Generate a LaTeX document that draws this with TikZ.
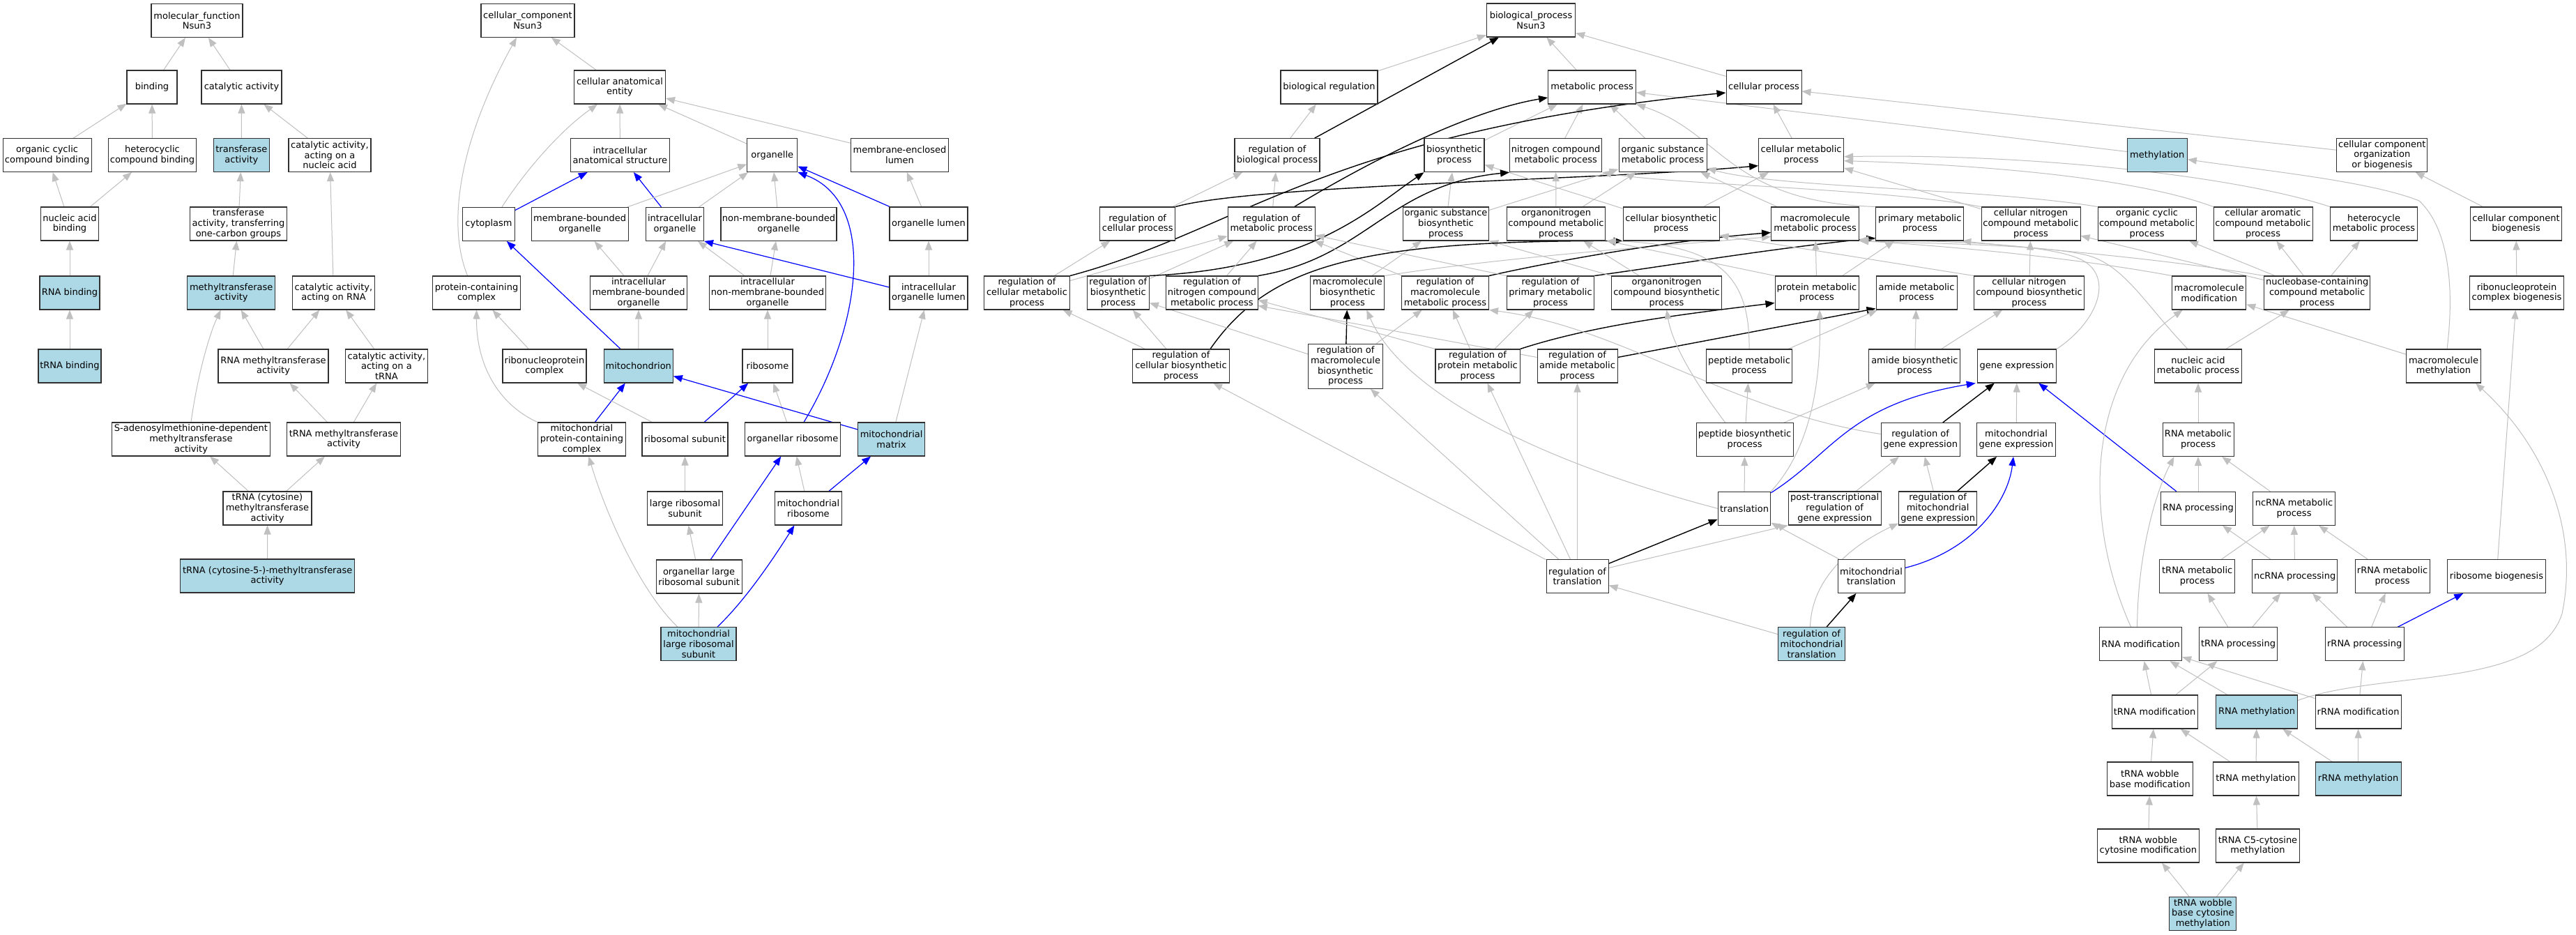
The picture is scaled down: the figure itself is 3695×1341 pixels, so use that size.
\documentclass[tikz,border=0pt]{standalone}
\usepackage{fontspec}
\setmainfont{DejaVu Sans}
\usetikzlibrary{arrows.meta}
\definecolor{bluefill}{HTML}{ADD8E6}
\definecolor{edgegray}{HTML}{C0C0C0}
\definecolor{boxline}{HTML}{303030}
\pgfdeclarelayer{bg}
\pgfsetlayers{bg,main}
\tikzset{
 gobox/.style={draw=boxline, line width=1.05pt, fill=white, rectangle, align=center, inner sep=1pt, minimum height=48pt, font=\fontsize{13}{14.6}\selectfont},
 hit/.style={gobox, fill=bluefill},
 isa/.style={draw=edgegray, line width=1pt, -{Triangle[length=13pt,width=10pt]}},
 partof/.style={draw=blue, line width=1.2pt, -{Triangle[length=13pt,width=10pt]}},
 regl/.style={draw=black, line width=1.4pt, -{Triangle[length=13pt,width=10pt]}},
}
\newcommand{\gonode}[5][gobox]{\node[#1, minimum width=#4pt] (#2) at (#3) {#5};}
\begin{document}
\begin{tikzpicture}[x=1pt,y=-1pt]
\begin{pgfonlayer}{bg}
\fill[white] (0,0) rectangle (3695,1341);
\end{pgfonlayer}
\path[use as bounding box] (0,0) rectangle (3695,1341);
% ---------------- molecular function
\gonode{mf}{282.5,29.5}{131}{molecular\_function\\Nsun3}
\gonode{bind}{218,125}{72}{binding}
\gonode{cat}{346.5,125}{115}{catalytic activity}
\gonode{occb}{67.6,222.5}{127}{organic cyclic\\compound binding}
\gonode{hcb}{218.5,222.5}{126}{heterocyclic\\compound binding}
\gonode[hit]{trans}{346.4,222.5}{80}{transferase\\activity}
\gonode{canuc}{473,222.5}{118}{catalytic activity,\\acting on a\\nucleic acid}
\gonode{nab}{100,321}{83}{nucleic acid\\binding}
\gonode{tocg}{342,321}{139}{transferase\\activity, transferring\\one-carbon groups}
\gonode[hit]{rnab}{100,420}{86}{RNA binding}
\gonode[hit]{mta}{331.7,420}{126}{methyltransferase\\activity}
\gonode{carna}{478.5,420}{118}{catalytic activity,\\acting on RNA}
\gonode[hit]{trnab}{100,525}{90}{tRNA binding}
\gonode{rmta}{392,525}{158}{RNA methyltransferase\\activity}
\gonode{catrna}{554.4,525}{118}{catalytic activity,\\acting on a\\tRNA}
\gonode{sam}{274,630}{227}{S-adenosylmethionine-dependent\\methyltransferase\\activity}
\gonode{tmta}{493,630}{163}{tRNA methyltransferase\\activity}
\gonode{tcmta}{383.5,729}{127}{tRNA (cytosine)\\methyltransferase\\activity}
\gonode[hit]{tc5}{383.7,826}{250}{tRNA (cytosine-5-)-methyltransferase\\activity}
% ---------------- cellular component
\gonode{cc}{757,29.3}{134}{cellular\_component\\Nsun3}
\gonode{cae}{889,125}{131}{cellular anatomical\\entity}
\gonode{ias}{889.4,222.5}{142}{intracellular\\anatomical structure}
\gonode{org}{1107.8,222.5}{72}{organelle}
\gonode{mel}{1290.5,222.3}{140}{membrane-enclosed\\lumen}
\gonode{cyt}{701,321.4}{75}{cytoplasm}
\gonode{mbo}{831.7,321.4}{139}{membrane-bounded\\organelle}
\gonode{io}{968,321.4}{83}{intracellular\\organelle}
\gonode{nmbo}{1117,321.4}{166}{non-membrane-bounded\\organelle}
\gonode{ol}{1332,321}{112}{organelle lumen}
\gonode{pcc}{683.6,420}{126}{protein-containing\\complex}
\gonode{imbo}{916,420}{139}{intracellular\\membrane-bounded\\organelle}
\gonode{inmbo}{1101,420}{167}{intracellular\\non-membrane-bounded\\organelle}
\gonode{iol}{1332,420}{112}{intracellular\\organelle lumen}
\gonode{rnpc}{781,525}{120}{ribonucleoprotein\\complex}
\gonode[hit]{mito}{915.8,525}{99}{mitochondrion}
\gonode{ribo}{1101,525}{72}{ribosome}
\gonode{mpcc}{834.4,630}{126}{mitochondrial\\protein-containing\\complex}
\gonode{rsu}{982.5,630}{123}{ribosomal subunit}
\gonode{oribo}{1137,630}{137}{organellar ribosome}
\gonode[hit]{mmat}{1278.6,630}{96}{mitochondrial\\matrix}
\gonode{lrsu}{982.5,729}{108}{large ribosomal\\subunit}
\gonode{mribo}{1159.4,729}{96}{mitochondrial\\ribosome}
\gonode{olrsu}{1002.6,827}{123}{organellar large\\ribosomal subunit}
\gonode[hit]{mlrsu}{1002,923.6}{108}{mitochondrial\\large ribosomal\\subunit}
% ---------------- biological process
\gonode{bp}{2196,29}{127}{biological\_process\\Nsun3}
\gonode{breg}{1906.5,125}{139}{biological regulation}
\gonode{met}{2283.6,125}{126}{metabolic process}
\gonode{cell}{2530,125}{108}{cellular process}
\gonode{rbp}{1832,222.7}{122}{regulation of\\biological process}
\gonode{bio}{2086,222.7}{86}{biosynthetic\\process}
\gonode{ncm}{2231.6,222.7}{132}{nitrogen compound\\metabolic process}
\gonode{osm}{2385,222.7}{126}{organic substance\\metabolic process}
\gonode{cm}{2583.6,222.7}{122}{cellular metabolic\\process}
\gonode[hit]{methy}{3094.3,222.7}{86}{methylation}
\gonode{ccob}{3416.8,222.3}{130}{cellular component\\organization\\or biogenesis}
\gonode{rcp}{1631.7,321}{108}{regulation of\\cellular process}
\gonode{rmp}{1823.7,321}{125}{regulation of\\metabolic process}
\gonode{osb}{2074,321}{123}{organic substance\\biosynthetic\\process}
\gonode{oncm}{2232,321}{141}{organonitrogen\\compound metabolic\\process}
\gonode{cbp}{2397,321}{138}{cellular biosynthetic\\process}
\gonode{mmp}{2603.6,321}{126}{macromolecule\\metabolic process}
\gonode{pmp}{2753.8,321}{126}{primary metabolic\\process}
\gonode{cncm}{2913,321}{142}{cellular nitrogen\\compound metabolic\\process}
\gonode{occm}{3079.6,321}{141}{organic cyclic\\compound metabolic\\process}
\gonode{cacm}{3246,321}{142}{cellular aromatic\\compound metabolic\\process}
\gonode{hmp}{3405,321}{125}{heterocycle\\metabolic process}
\gonode{ccb}{3609,321}{131}{cellular component\\biogenesis}
\gonode{rcmp}{1473,420}{123}{regulation of\\cellular metabolic\\process}
\gonode{rbsp}{1603.8,420}{89}{regulation of\\biosynthetic\\process}
\gonode{rncm}{1738.4,420}{131.5}{regulation of\\nitrogen compound\\metabolic process}
\gonode{mbp}{1932.8,420}{106}{macromolecule\\biosynthetic\\process}
\gonode{rmmp}{2073,420}{125}{regulation of\\macromolecule\\metabolic process}
\gonode{rpmp}{2224,420}{125.5}{regulation of\\primary metabolic\\process}
\gonode{oncb}{2390.5,420}{158}{organonitrogen\\compound biosynthetic\\process}
\gonode{prot}{2606,420}{120}{protein metabolic\\process}
\gonode{amide}{2749,420}{116}{amide metabolic\\process}
\gonode{cncb}{2910.5,420}{158}{cellular nitrogen\\compound biosynthetic\\process}
\gonode{mmod}{3168.7,420}{106}{macromolecule\\modification}
\gonode{nbc}{3323.6,420}{152}{nucleobase-containing\\compound metabolic\\process}
\gonode{rnpcb}{3610,420}{135}{ribonucleoprotein\\complex biogenesis}
\gonode{rcbp}{1694,525}{139}{regulation of\\cellular biosynthetic\\process}
\gonode[gobox,minimum height=64pt]{rmbp}{1930,525.3}{107}{regulation of\\macromolecule\\biosynthetic\\process}
\gonode{rprot}{2119.5,525}{121}{regulation of\\protein metabolic\\process}
\gonode{ramide}{2262.5,525}{115}{regulation of\\amide metabolic\\process}
\gonode{pep}{2509,525}{123}{peptide metabolic\\process}
\gonode{amb}{2746.4,525}{131}{amide biosynthetic\\process}
\gonode{gene}{2893,525}{113.5}{gene expression}
\gonode{nam}{3153,525}{125.5}{nucleic acid\\metabolic process}
\gonode{mmeth}{3505,525}{107}{macromolecule\\methylation}
\gonode{pepb}{2502.6,630.5}{139}{peptide biosynthetic\\process}
\gonode{rge}{2754.6,630.5}{113}{regulation of\\gene expression}
\gonode{mge}{2892,630.5}{113}{mitochondrial\\gene expression}
\gonode{rnam}{3153,630.5}{102}{RNA metabolic\\process}
\gonode{tl}{2502,729.3}{75.5}{translation}
\gonode{ptr}{2631.6,729}{133}{post-transcriptional\\regulation of\\gene expression}
\gonode{rmge}{2779.6,729}{112}{regulation of\\mitochondrial\\gene expression}
\gonode{rnap}{3153,729.3}{107}{RNA processing}
\gonode{ncrm}{3290.5,729.3}{118}{ncRNA metabolic\\process}
\gonode{rtl}{2262.5,826.5}{89}{regulation of\\translation}
\gonode{mtl}{2684,826.5}{96}{mitochondrial\\translation}
\gonode{trm}{3151.7,826.5}{108}{tRNA metabolic\\process}
\gonode{ncp}{3291.6,826.5}{122}{ncRNA processing}
\gonode{rrm}{3431.6,826.5}{107}{rRNA metabolic\\process}
\gonode{rbg}{3581,826.5}{141}{ribosome biogenesis}
\gonode[hit]{rmtl}{2598.5,923.7}{96}{regulation of\\mitochondrial\\translation}
\gonode{rmod}{3070.6,923.7}{118}{RNA modification}
\gonode{tproc}{3210.5,923.7}{112}{tRNA processing}
\gonode{rproc}{3391.7,923.7}{113}{rRNA processing}
\gonode{tmod}{3090.6,1021}{123}{tRNA modification}
\gonode[hit]{rmeth}{3237,1021}{117}{RNA methylation}
\gonode{rrmod}{3382.6,1021}{123}{rRNA modification}
\gonode{twbm}{3083.8,1117}{122.5}{tRNA wobble\\base modification}
\gonode{tmeth}{3235.8,1117}{123}{tRNA methylation}
\gonode[hit]{rrmeth}{3382.6,1117}{123}{rRNA methylation}
\gonode{twcm}{3081.3,1213}{146.5}{tRNA wobble\\cytosine modification}
\gonode{tc5m}{3238.5,1213}{120}{tRNA C5-cytosine\\methylation}
\gonode[hit]{twbcm}{3159.8,1310.3}{96}{tRNA wobble\\base cytosine\\methylation}

\begin{pgfonlayer}{bg}
% ---------- MF edges
\draw[isa] (bind) -- (mf);
\draw[isa] (cat) -- (mf);
\draw[isa] (occb) -- (bind);
\draw[isa] (hcb) -- (bind);
\draw[isa] (trans) -- (cat);
\draw[isa] (canuc) -- (cat);
\draw[isa] (nab) -- (occb);
\draw[isa] (nab) -- (hcb);
\draw[isa] (tocg) -- (trans);
\draw[isa] (rnab) -- (nab);
\draw[isa] (mta) -- (tocg);
\draw[isa] (carna) -- (canuc);
\draw[isa] (trnab) -- (rnab);
\draw[isa] (rmta) -- (mta);
\draw[isa] (rmta) -- (carna);
\draw[isa] (catrna) -- (carna);
\draw[isa] (sam.north) .. controls (283,540) and (300,480) .. ([xshift=-15pt]mta.south);
\draw[isa] (tmta) -- (rmta);
\draw[isa] (tmta) -- (catrna);
\draw[isa] (tcmta) -- (sam);
\draw[isa] (tcmta) -- (tmta);
\draw[isa] (tc5) -- (tcmta);
% ---------- CC edges
\draw[isa] (cae) -- (cc);
\draw[isa] ([xshift=-13pt]pcc.north) .. controls (640,320) and (660,200) .. ([xshift=-16pt]cc.south);
\draw[isa] (ias) -- (cae);
\draw[isa] (org) -- (cae);
\draw[isa] (mel) -- (cae);
\draw[isa] ([xshift=19pt]cyt.north) .. controls (750,250) and (800,190) .. ([xshift=-32pt]cae.south);
\draw[partof] (cyt) -- (ias);
\draw[partof] (io) -- (ias);
\draw[isa] (mbo) -- (org);
\draw[isa] (io) -- (org);
\draw[isa] (nmbo) -- (org);
\draw[partof] (ol) -- (org);
\draw[isa] (ol) -- (mel);
\draw[isa] (imbo) -- (mbo);
\draw[isa] (imbo) -- (io);
\draw[isa] (inmbo) -- (io);
\draw[isa] (inmbo) -- (nmbo);
\draw[partof] ([yshift=8pt]iol.west) -- (io.south east);
\draw[isa] (iol) -- (ol);
\draw[isa] (rnpc) -- (pcc);
\draw[partof] (mito) -- (cyt);
\draw[isa] (mito) -- (imbo);
\draw[isa] (ribo) -- (inmbo);
\draw[isa] (mpcc.north west) .. controls (705,575) and (683,510) .. (pcc.south);
\draw[partof] (mpcc) -- (mito);
\draw[isa] (rsu) -- (rnpc);
\draw[partof] (rsu) -- (ribo);
\draw[isa] (oribo) -- (ribo);
\draw[partof] ([xshift=16pt]oribo.north) .. controls (1235,470) and (1260,290) .. (org.south east);
\draw[partof] (mmat) -- (mito);
\draw[isa] (mmat) -- (iol);
\draw[isa] (lrsu) -- (rsu);
\draw[isa] (mribo) -- (oribo);
\draw[partof] (mribo) -- (mmat);
\draw[isa] (olrsu) -- (lrsu);
\draw[partof] (olrsu) -- (oribo);
\draw[isa] (mlrsu) -- (olrsu);
\draw[partof] ([xshift=27pt]mlrsu.north) .. controls (1070,860) and (1110,800) .. ([xshift=-20pt]mribo.south);
\draw[isa] ([xshift=-30pt]mlrsu.north) .. controls (920,850) and (870,740) .. ([xshift=10pt]mpcc.south);
% ---------- BP edges
\draw[isa] (breg) -- (bp);
\draw[isa] (met) -- (bp);
\draw[isa] (cell) -- (bp);
\draw[isa] (rbp) -- (breg);
\draw[regl] ([xshift=-8pt]rbp.north east) -- ([xshift=-46pt]bp.south);
\draw[isa] (bio) -- (met);
\draw[isa] (ncm) -- (met);
\draw[isa] (osm) -- (met);
\draw[isa] (cm) -- (cell);
\draw[isa] (methy) -- (met);
\draw[isa] (ccob) -- (cell);
\draw[isa] (rcp) -- (rbp);
\draw[isa] (rmp) -- (rbp);
\draw[regl] (rcp.north east) .. controls (1800,265) and (2300,258) .. ([yshift=-15pt]cm.west);
\draw[regl] (rcmp.north east) .. controls (1780,330) and (1900,190) .. ([yshift=-8pt]cell.west);
\draw[regl] ([xshift=-30pt]rmp.north east) .. controls (1950,240) and (2100,160) .. ([yshift=-15pt]met.west);
\draw[isa] (osb) -- (bio);
\draw[isa] (osb) -- (osm);
\draw[isa] (oncm) -- (ncm);
\draw[isa] (oncm) -- (osm);
\draw[isa] (cbp) -- (bio);
\draw[isa] (cbp) -- (cm);
\draw[isa] (mmp) -- (osm);
\draw[isa] (pmp.north west) .. controls (2480,290) and (2470,190) .. (met.south east);
\draw[isa] (cncm.north west) .. controls (2700,270) and (2400,265) .. (ncm.south east);
\draw[isa] (cncm) -- (cm);
\draw[isa] (occm.north west) .. controls (2850,270) and (2550,270) .. ([yshift=6pt]osm.south east);
\draw[isa] (cacm.north west) .. controls (3050,250) and (2800,235) .. ([yshift=-8pt]cm.east);
\draw[isa] (hmp.north west) .. controls (3200,250) and (2900,220) .. ([yshift=-2pt]cm.east);
\draw[isa] (ccb) -- (ccob);
\draw[isa] (rcmp) -- (rcp);
\draw[isa] (rcmp) -- (rmp);
\draw[isa] (rbsp) -- (rmp);
\draw[regl] (rbsp.north east) .. controls (1880,385) and (1965,300) .. (bio.south west);
\draw[isa] (rncm) -- (rmp);
\draw[regl] (rncm.north east) .. controls (1960,370) and (1990,265) .. (ncm.south west);
\draw[isa] (mbp) -- (osb);
\draw[isa] (mbp.north east) .. controls (2150,370) and (2350,355) .. ([yshift=6pt]mmp.south west);
\draw[isa] (rmmp) -- (rmp);
\draw[regl] (rmmp.north east) .. controls (2250,370) and (2400,345) .. ([yshift=12pt]mmp.south west);
\draw[isa] (rpmp.north west) -- ([yshift=8pt]rmp.south east);
\draw[regl] (rpmp.north east) .. controls (2400,380) and (2550,355) .. ([yshift=4pt]pmp.south west);
\draw[isa] (oncb) -- (oncm);
\draw[isa] (oncb.north west) -- (osb.south east);
\draw[isa] (prot) -- (mmp);
\draw[isa] (prot.north west) -- ([xshift=2pt]oncm.south east);
\draw[isa] (prot) -- (pmp);
\draw[regl] (rprot.north east) .. controls (2290,465) and (2420,450) .. ([yshift=10pt]prot.south west);
\draw[regl] ([yshift=-12pt]ramide.north east) -- ([yshift=2pt]amide.south west);
\draw[isa] (cncb) -- (cncm);
\draw[isa] (cncb.north west) -- ([yshift=8pt]cbp.south east);
\draw[regl] ([xshift=-28pt]rcbp.north east) .. controls (1820,380) and (1950,345) .. (cbp.south west);
\draw[isa] (mmod.north west) .. controls (2950,365) and (2750,350) .. (mmp.south east);
\draw[isa] (nbc) -- (cncm);
\draw[isa] (nbc) -- (occm);
\draw[isa] (nbc) -- (cacm);
\draw[isa] (nbc) -- (hmp);
\draw[isa] (nbc.north west) .. controls (3100,370) and (2900,355) .. ([xshift=-3pt]pmp.south east);
\draw[isa] (rnpcb) -- (ccb);
\draw[isa] (rcbp) -- (rcmp);
\draw[isa] (rcbp) -- (rbsp);
\draw[isa] (rmbp) -- (rbsp);
\draw[isa] (rmbp) -- (rmmp);
\draw[regl] (rmbp) -- (mbp);
\draw[isa] (rprot) -- (rmmp);
\draw[isa] (rprot) -- (rpmp);
\draw[isa] (rprot.north west) -- ([yshift=14pt]rncm.south east);
\draw[isa] ([yshift=-12pt]ramide.north west) -- ([yshift=6pt]rncm.south east);
\draw[isa] (pep) -- (amide);
\draw[isa] (pep.north) .. controls (2510,400) and (2470,350) .. ([xshift=2pt]oncm.south east);
\draw[isa] (amb) -- (amide);
\draw[isa] (amb) -- (cncb);
\draw[isa] (gene.north east) .. controls (3010,460) and (3030,400) .. (2990,375) .. controls (2950,350) and (2800,346) .. ([yshift=2pt]mmp.south east);
\draw[isa] (nam) -- (nbc);
\draw[isa] ([xshift=-15pt]nam.north) .. controls (3080,440) and (3050,385) .. (3000,368) .. controls (2950,352) and (2800,350) .. (mmp.south east);
\draw[isa] (mmeth) -- (mmod);
\draw[isa] ([xshift=5pt]mmeth.north) .. controls (3520,420) and (3515,330) .. (3470,288) .. controls (3400,260) and (3250,245) .. ([yshift=-6pt]methy.east);
\draw[isa] (pepb) -- (pep);
\draw[isa] (pepb) -- (amb);
\draw[isa] ([xshift=-28pt]pepb.north) .. controls (2440,560) and (2400,500) .. (oncb.south);
\draw[regl] (rge) -- (gene);
\draw[isa] ([yshift=8pt]rge.west) .. controls (2480,590) and (2330,470) .. (rmmp.south east);
\draw[isa] (mge) -- (gene);
\draw[isa] (rnam) -- (nam);
\draw[isa] (tl) -- (pepb);
\draw[partof] ([yshift=-2pt]tl.north east) .. controls (2630,650) and (2650,580) .. ([xshift=-2pt]gene.south west);
\draw[isa] (tl.north east) .. controls (2600,640) and (2612,540) .. ([xshift=4pt]prot.south);
\draw[isa] (tl.west) .. controls (2200,660) and (2010,560) .. ([xshift=-26pt]mbp.south east);
\draw[isa] (ptr) -- (rge);
\draw[isa] (rmge) -- (rge);
\draw[regl] (rmge) -- (mge);
\draw[isa] (rnap) -- (rnam);
\draw[partof] (rnap) -- (gene);
\draw[isa] (ncrm) -- (rnam);
\draw[regl] (rtl) -- (tl);
\draw[isa] ([yshift=12pt]rtl.east) -- (ptr.south west);
\draw[isa] (rtl) -- (ramide);
\draw[isa] ([xshift=-10pt]rtl.north) -- ([xshift=14pt]rprot.south);
\draw[isa] (rtl) -- (rcbp);
\draw[isa] (rtl) -- (rmbp);
\draw[isa] (mtl) -- (tl);
\draw[partof] ([yshift=12pt]mtl.east) .. controls (2830,790) and (2880,720) .. ([xshift=-4pt]mge.south);
\draw[isa] (trm) -- (ncrm);
\draw[isa] (ncp) -- (rnap);
\draw[isa] (ncp) -- (ncrm);
\draw[isa] (rrm) -- (ncrm);
\draw[isa] (rbg) -- (rnpcb);
\draw[isa] (rmtl) -- (rtl);
\draw[isa] ([xshift=-2pt]rmtl.north) .. controls (2598,840) and (2640,790) .. ([yshift=3pt]rmge.south west);
\draw[regl] (rmtl) -- (mtl);
\draw[isa] ([xshift=-5pt]rmod.north) .. controls (3066,800) and (3090,710) .. ([xshift=17pt]rnam.south west);
\draw[isa] ([xshift=-14pt]rmod.north) .. controls (2985,740) and (2995,540) .. ([xshift=-38pt]mmod.south);
\draw[isa] (tproc) -- (trm);
\draw[isa] (tproc) -- (ncp);
\draw[isa] (rproc) -- (ncp);
\draw[isa] (rproc) -- (rrm);
\draw[partof] (rproc) -- (rbg);
\draw[isa] (tmod) -- (rmod);
\draw[isa] (tmod) -- (tproc);
\draw[isa] (rmeth) -- (rmod);
\draw[isa] ([yshift=-8pt]rmeth.north east) .. controls (3420,960) and (3640,990) .. (3675,880) .. controls (3700,760) and (3650,640) .. ([xshift=-8pt]mmeth.south east);
\draw[isa] (rrmod) -- (rmod);
\draw[isa] (rrmod) -- (rproc);
\draw[isa] (twbm) -- (tmod);
\draw[isa] (tmeth) -- (tmod);
\draw[isa] (tmeth) -- (rmeth);
\draw[isa] (rrmeth) -- (rmeth);
\draw[isa] (rrmeth) -- (rrmod);
\draw[isa] (twcm) -- (twbm);
\draw[isa] (tc5m) -- (tmeth);
\draw[isa] (twbcm) -- (twcm);
\draw[isa] (twbcm) -- (tc5m);
\end{pgfonlayer}
\end{tikzpicture}
\end{document}
